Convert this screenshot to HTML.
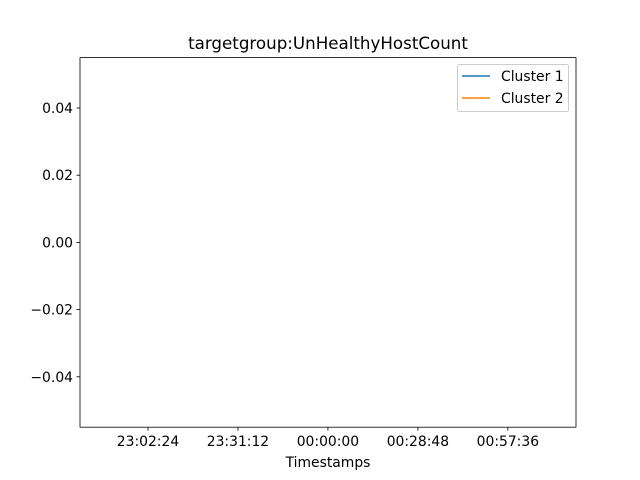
<!DOCTYPE html>
<html><head><meta charset="utf-8"><style>
body{margin:0;background:#fff;}
svg{display:block;font-family:"DejaVu Sans","Liberation Sans",sans-serif;}
</style></head><body>
<svg id="chart" width="640" height="480" viewBox="0 0 640 480">
<rect width="640" height="480" fill="#fff"/>
<text x="328" y="49" font-size="16.7" text-anchor="middle" fill="#000">targetgroup:UnHealthyHostCount</text>
<g id="yaxis"></g>
<g id="xaxis"></g>
<g id="series"></g>
<rect x="80" y="57.6" width="496" height="369.6" fill="none" stroke="#000" stroke-width="0.8"/>
<text x="328" y="467" font-size="13.9" text-anchor="middle" fill="#000">Timestamps</text>
<g>
<rect x="457.5" y="64.5" width="111" height="47" rx="2" fill="#fff" fill-opacity="0.8" stroke="#ccc" stroke-width="1"/>
<line x1="462" y1="76" x2="490" y2="76" stroke="#1f77b4" stroke-width="1.5"/>
<text x="501" y="81" font-size="13.9" fill="#000">Cluster 1</text>
<line x1="462" y1="98" x2="490" y2="98" stroke="#ff7f0e" stroke-width="1.5"/>
<text x="501" y="103" font-size="13.9" fill="#000">Cluster 2</text>
</g>
</svg>
<script>
// minutes relative to 23:02:24
const xTickValues=[0,28.8,57.6,86.4,115.2];
const xTickLabels=["23:02:24","23:31:12","00:00:00","00:28:48","00:57:36"];
const yTickValues=[-0.04,-0.02,0,0.02,0.04];
const yTickLabels=["\u22120.04","\u22120.02","0.00","0.02","0.04"];
const cluster1Times=[];
const cluster1Values=[];
const cluster2Times=[];
const cluster2Values=[];
const xMin=-21.76,xMax=137.01,yMin=-0.055,yMax=0.055;
const L=80,R=576,T=57.6,B=427.2;
const sx=v=>L+(v-xMin)/(xMax-xMin)*(R-L);
const sy=v=>B-(v-yMin)/(yMax-yMin)*(B-T);
const NS="http://www.w3.org/2000/svg";
function mk(tag,attrs,parent){const e=document.createElementNS(NS,tag);for(const k in attrs)e.setAttribute(k,attrs[k]);parent.appendChild(e);return e;}
const ya=document.getElementById('yaxis'),xa=document.getElementById('xaxis'),sg=document.getElementById('series');
yTickValues.forEach((v,i)=>{
 const y=sy(v);
 const t=mk('line',{x1:L-3.5,x2:L,y1:y,y2:y,stroke:'#000','stroke-width':0.8},ya);
 
 
 const l=mk('text',{x:L-7,y:y+5,'font-size':13.9,'text-anchor':'end',fill:'#000'},ya);
 l.textContent=yTickLabels[i];
 
 
});
xTickValues.forEach((v,i)=>{
 const x=sx(v);
 const t=mk('line',{x1:x,x2:x,y1:B,y2:B+3.5,stroke:'#000','stroke-width':0.8},xa);
 
 
 const l=mk('text',{x:x,y:B+19,'font-size':13.9,'text-anchor':'middle',fill:'#000'},xa);
 l.textContent=xTickLabels[i];
 
 
});
function drawLine(ts,vs,color,name){
 if(!ts.length)return;
 const p=mk('polyline',{points:ts.map((t,i)=>sx(t)+','+sy(vs[i])).join(' '),fill:'none',stroke:color,'stroke-width':1.5},sg);
 
 
}
drawLine(cluster1Times,cluster1Values,'#1f77b4','line-cluster-1');
drawLine(cluster2Times,cluster2Values,'#ff7f0e','line-cluster-2');
</script>
</body></html>
